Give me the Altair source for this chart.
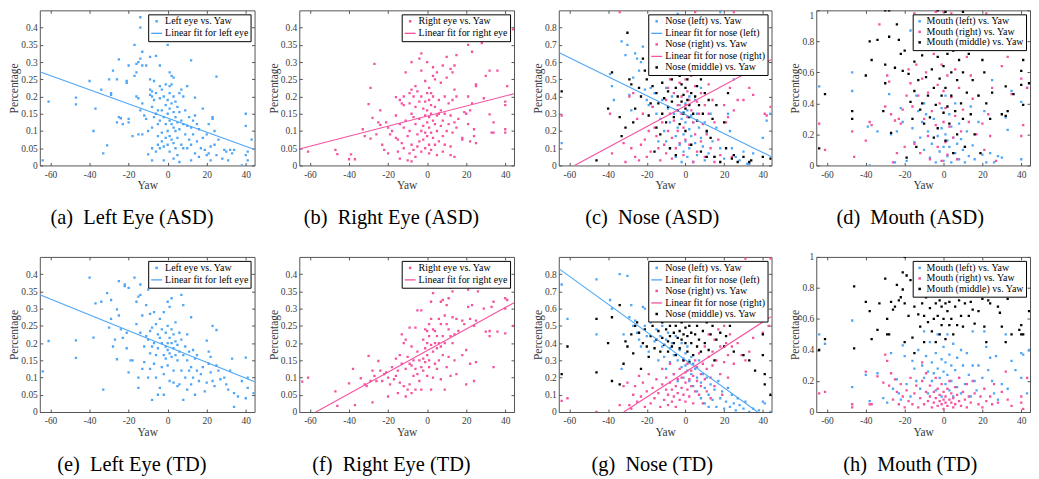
import altair as alt
import pandas as pd

BLUE = "#4ea6f7"
PINK = "#f5529f"
BLACK = "#000000"
FRAME = "#555555"
TEXT = "#3a3a3a"
FONT = "Liberation Serif"

X_DOMAIN = [-65.5, 44.5]
X_TICKS = [-60, -40, -20, 0, 20, 40]
Y_TICKS_EYE = [0, 0.05, 0.1, 0.15, 0.2, 0.25, 0.3, 0.35, 0.4]
Y_TICKS_NOSE = [0, 0.1, 0.2, 0.3, 0.4, 0.5, 0.6, 0.7, 0.8]
Y_TICKS_MOUTH = [0, 0.2, 0.4, 0.6, 0.8, 1]

# ---------------- (a) Left eye, ASD ----------------
A_LEFT = [(-64, .015), (-61, .185), (-47, .197), (-47, .177), (-40, .245), (-38, .10), (-37, .165), (-34, .22),
          (-33, .035), (-31, .058), (-30, .25), (-29, .21), (-29, .205), (-28, .275), (-26, .25), (-26, .125),
          (-25, .308), (-25, .14), (-24, .137), (-23, .12), (-21, .24), (-21, .245), (-20, .29), (-20, .135),
          (-20, .125), (-18, .085), (-17, .35), (-17, .26), (-16, .295), (-16, .27), (-16, .2), (-15, .3),
          (-15, .195), (-15, .09), (-14, .31), (-14, .43), (-14, .40), (-14, .16), (-13, .33), (-13, .29),
          (-13, .18), (-13, .09), (-12, .145), (-11, .29), (-11, .135), (-10, .032), (-10, .10), (-9, .315),
          (-9, .25), (-9, .22), (-9, .205), (-8, .2), (-8, .215), (-8, .17), (-8, .11), (-8, .05), (-8, .015),
          (-7, .245), (-7, .19), (-7, .14), (-6, .318), (-6, .21), (-6, .15), (-6, .04), (-5, .16), (-5, .12),
          (-5, .085), (-5, .06), (-4, .29), (-4, .23), (-4, .195), (-4, .13), (-4, .05), (-3, .22), (-3, .16),
          (-3, .095), (-3, .07), (-2, .2), (-2, .14), (-2, .055), (-2, .015), (-1, .235), (-1, .175), (-1, .12),
          (-1, .08), (0, .35), (0, .19), (0, .15), (0, .1), (0, .06), (1, .27), (1, .23), (1, .21), (1, .165),
          (1, .13), (1, .085), (1, .04), (2, .26), (2, .235), (2, .18), (2, .12), (2, .075), (3, .255), (3, .2),
          (3, .155), (3, .11), (3, .065), (3, .02), (4, .185), (4, .14), (4, .1), (4, .05), (5, .17), (5, .125),
          (5, .08), (5, .03), (6, .21), (6, .155), (6, .105), (6, .01), (7, .22), (7, .13), (7, .06), (8, .2),
          (8, .12), (8, .05), (9, .16), (9, .09), (10, .23), (10, .115), (10, .05), (11, .14), (11, .075),
          (12, .305), (12, .11), (12, .06), (12, .015), (13, .13), (13, .09), (14, .197), (14, .145), (14, .035),
          (15, .12), (15, .07), (16, .105), (16, .025), (17, .05), (18, .165), (18, .08), (19, .045), (20, .03),
          (20, .09), (21, .035), (21, .12), (22, .015), (22, .055), (23, .14), (23, .135), (24, .1), (24, .06),
          (25, .258), (25, .03), (26, .075), (28, .02), (29, .045), (30, .04), (31, .015), (32, .045), (33, .035),
          (34, .045), (38, .0), (40, .15), (40, .115), (40, .03), (41, .04), (41, .015), (43, .075)]
A_FIT_X = [-65.5, 44.5]
A_FIT_Y = [0.272, 0.046]

# ---------------- (b) Right eye, ASD ----------------
B_RIGHT = [(-61, .04), (-47, .045), (-46, .033), (-40, .018), (-39, .032), (-37, .018), (-33, .105), (-32, .085),
           (-30, .178), (-29, .225), (-29, .078), (-28, .138), (-27, .295), (-26, .09), (-25, .125), (-24, .16),
           (-24, .118), (-23, .06), (-22, .045), (-21, .125), (-20, .11), (-20, .035), (-19, .09), (-18, .1),
           (-16, .198), (-16, .145), (-16, .08), (-15, .075), (-15, .04), (-14, .19), (-14, .12), (-14, .02),
           (-13, .18), (-13, .065), (-12, .2), (-12, .175), (-12, .11), (-12, .05), (-11, .27), (-11, .13),
           (-10, .085), (-10, .015), (-9, .21), (-9, .18), (-9, .1), (-9, .035), (-8, .3), (-8, .22), (-8, .15),
           (-8, .06), (-8, .012), (-7, .2), (-7, .14), (-7, .045), (-6, .23), (-6, .17), (-6, .12), (-6, .025),
           (-5, .215), (-5, .09), (-5, .055), (-4, .31), (-4, .185), (-4, .135), (-4, .07), (-3, .325), (-3, .275),
           (-3, .2), (-3, .1), (-3, .04), (-2, .165), (-2, .115), (-2, .075), (-1, .245), (-1, .185), (-1, .145),
           (-1, .095), (-1, .05), (0, .3), (0, .21), (0, .16), (0, .125), (0, .085), (1, .225), (1, .19), (1, .14),
           (1, .11), (1, .06), (1, .035), (2, .21), (2, .175), (2, .15), (2, .095), (2, .045), (3, .285), (3, .26),
           (3, .2), (3, .13), (3, .08), (4, .25), (4, .17), (4, .12), (4, .06), (5, .27), (5, .145), (5, .1),
           (5, .03), (6, .19), (6, .15), (6, .07), (7, .24), (7, .16), (7, .115), (8, .29), (8, .13), (8, .085),
           (8, .04), (9, .2), (9, .15), (9, .06), (10, .315), (10, .255), (10, .1), (11, .18), (11, .12), (12, .28),
           (12, .145), (12, .055), (12, .03), (13, .27), (13, .19), (13, .095), (14, .29), (14, .22), (14, .125),
           (14, .025), (15, .32), (15, .2), (15, .11), (16, .135), (18, .08), (18, .075), (19, .155), (20, .15),
           (21, .35), (21, .2), (21, .12), (22, .07), (22, .16), (23, .33), (23, .18), (24, .105), (24, .085),
           (25, .235), (25, .23), (25, .065), (28, .355), (29, .195), (30, .26), (32, .275), (32, .148), (33, .095),
           (34, .125), (34, .095), (36, .275), (40, .185), (40, .175), (40, .105), (40, .095), (41, .23), (44, .395)]
B_FIT_X = [-65.5, 44.5]
B_FIT_Y = [0.048, 0.208]

# ---------------- (c) Nose, ASD ----------------
C_LEFT = [(-64, .13), (-39, .53), (-38, .46), (-37, .38), (-33, .72), (-31, .64), (-30, .7), (-29, .41), (-28, .32),
          (-27, .51), (-26, .65), (-25, .62), (-24, .55), (-23, .6), (-22, .69), (-21, .44), (-20, .38), (-19, .35),
          (-18, .45), (-17, .34), (-16, .42), (-15, .3), (-14, .14), (-14, .55), (-13, .27), (-12, .38), (-11, .2),
          (-10, .14), (-10, .45), (-9, .33), (-8, .25), (-8, .1), (-7, .4), (-6, .3), (-5, .17), (-5, .05),
          (-4, .88), (-4, .22), (-3, .35), (-3, .12), (-2, .27), (-2, .02), (-1, .31), (-1, .18), (-1, .08),
          (0, .36), (0, .25), (0, .14), (1, .32), (1, .05), (2, .4), (2, .21), (2, .1), (3, .29), (3, .17), (4, .02),
          (4, .25), (5, .38), (5, .13), (6, .3), (6, .06), (7, .22), (8, .16), (8, .45), (9, .11), (10, .25),
          (10, .03), (11, .19), (12, .07), (13, .3), (14, .14), (15, .05), (16, .22), (18, .1), (18, .89), (20, .04),
          (22, .3), (23, .2), (24, .1), (25, .5), (26, .05), (28, .03), (30, .08), (32, .01), (33, .01), (35, .07),
          (40, .16), (42, .26), (44, .3)]
C_RIGHT = [(-64, .29), (-39, .3), (-38, .07), (-34, .89), (-32, .13), (-31, .02), (-29, .4), (-28, .1), (-27, .42),
           (-26, .05), (-25, .27), (-24, .03), (-23, .12), (-22, .3), (-21, .15), (-20, .05), (-19, .2), (-18, .08),
           (-17, .34), (-16, .22), (-15, .17), (-14, .1), (-13, .03), (-12, .25), (-11, .12), (-10, .38), (-10, .07),
           (-9, .45), (-9, .2), (-8, .5), (-8, .3), (-7, .16), (-7, .04), (-6, .42), (-6, .26), (-5, .55), (-5, .1),
           (-4, .35), (-4, .2), (-3, .48), (-3, .13), (-2, .4), (-2, .3), (-1, .22), (-1, .06), (0, .5), (0, .35),
           (0, .15), (1, .43), (1, .28), (2, .38), (2, .12), (3, .52), (3, .32), (4, .25), (4, .02), (5, .46),
           (5, .18), (5, .89), (6, .37), (6, .08), (7, .3), (8, .42), (8, .14), (9, .24), (10, .35), (10, .05),
           (11, .18), (12, .47), (12, .3), (13, .1), (14, .38), (15, .25), (15, .02), (17, .15), (18, .06), (20, .35),
           (21, .25), (22, .28), (23, .45), (24, .05), (25, .32), (25, .89), (27, .38), (30, .38), (33, .45),
           (35, .41), (41, .3), (42, .29), (44, .34)]
C_MIDDLE = [(-64, .43), (-46, .03), (-40, .33), (-38, .54), (-34, .28), (-33, .17), (-31, .22), (-30, .77), (-29, .5),
            (-28, .47), (-27, .25), (-26, .33), (-24, .45), (-23, .4), (-22, .62), (-21, .55), (-20, .5), (-19, .29),
            (-18, .36), (-17, .46), (-16, .08), (-15, .42), (-15, .22), (-14, .36), (-13, .18), (-12, .48), (-12, .3),
            (-11, .39), (-10, .25), (-10, .53), (-9, .43), (-9, .34), (-8, .1), (-7, .5), (-7, .37), (-6, .28),
            (-5, .45), (-5, .06), (-4, .4), (-4, .32), (-3, .52), (-3, .24), (-2, .37), (-2, .47), (-1, .3), (-1, .41),
            (0, .33), (0, .45), (0, .2), (1, .38), (1, .5), (2, .35), (2, .28), (3, .42), (3, .12), (4, .3), (4, .53),
            (5, .4), (6, .26), (6, .46), (7, .35), (8, .5), (8, .08), (9, .3), (10, .42), (11, .2), (11, .05),
            (12, .38), (13, .16), (14, .27), (15, .05), (16, .35), (18, .02), (20, .25), (21, .1), (22, .42),
            (24, .04), (25, .06), (27, .02), (30, .05), (33, .02), (34, .03), (40, .05), (44, .04)]
C_FIT_LEFT_X = [-65.5, 44.5]
C_FIT_LEFT_Y = [0.655, 0.05]
C_FIT_RIGHT_X = [-57.4, 44.5]
C_FIT_RIGHT_Y = [0.0, 0.615]

# ---------------- (d) Mouth, ASD ----------------
D_LEFT = [(-64, .51), (-47, .6), (-47, .48), (-39, .25), (-38, .0), (-34, .22), (-28, .46), (-27, .2), (-25, .02),
          (-24, .22), (-22, .37), (-21, .28), (-19, .03), (-17, .87), (-16, .24), (-15, .15), (-14, .45), (-13, .35),
          (-12, .18), (-11, .28), (-10, .1), (-10, .4), (-9, .33), (-8, .22), (-7, .05), (-6, .14), (-5, .3),
          (-4, .02), (-3, .19), (-2, .09), (-1, .37), (-1, .24), (0, .12), (0, .03), (1, .2), (1, .45), (2, .16),
          (2, .06), (3, .33), (3, .12), (4, .25), (4, .02), (5, .18), (6, .08), (6, .4), (7, .14), (8, .04),
          (8, .27), (9, .17), (10, .1), (11, .02), (12, .22), (13, .06), (14, .38), (15, .13), (16, .04), (18, .28),
          (20, .07), (21, .35), (22, .02), (24, .08), (25, .55), (26, .02), (28, .06), (30, .05), (32, .31),
          (33, .23), (35, .48), (40, .41), (40, .04), (43, .5)]
D_RIGHT = [(-64, .27), (-61, .1), (-47, .22), (-46, .055), (-40, .16), (-38, .28), (-37, .26), (-33, .91), (-30, .38),
           (-29, .58), (-28, .54), (-27, .33), (-26, .02), (-25, .29), (-24, .08), (-23, .3), (-22, .27), (-21, .36),
           (-20, .12), (-19, .45), (-18, .62), (-17, .53), (-16, .38), (-15, .14), (-15, .98), (-14, .65), (-13, .45),
           (-12, .08), (-11, .56), (-10, .3), (-9, .6), (-8, .19), (-8, .47), (-7, .04), (-6, .35), (-5, .72),
           (-4, .26), (-4, .99), (-3, .52), (-3, .12), (-2, .4), (-1, .03), (-1, .65), (0, .28), (0, .48), (0, .99),
           (1, .15), (1, .37), (2, .58), (2, .07), (3, .25), (4, .44), (4, .98), (5, .18), (6, .32), (6, .62),
           (7, .04), (8, .5), (9, .22), (10, .36), (11, .12), (12, .7), (13, .28), (14, .58), (15, .43), (17, .2),
           (18, .45), (20, .27), (21, .1), (22, .98), (23, .33), (24, .19), (25, .5), (27, .03), (30, .64), (33, .7),
           (35, .46), (40, .56), (40, .19), (41, .26), (43, .5)]
D_MIDDLE = [(-64, .11), (-61, .46), (-47, .35), (-47, .3), (-40, .58), (-38, .8), (-37, .68), (-34, .81), (-31, .35),
            (-30, .65), (-30, .53), (-30, 1.0), (-28, .83), (-28, 1.0), (-27, .21), (-25, .63), (-24, .91), (-23, .81),
            (-22, .72), (-21, .61), (-20, .74), (-19, .05), (-18, .59), (-17, .41), (-16, .3), (-15, .48), (-15, .67),
            (-14, .12), (-13, .55), (-12, .36), (-11, .71), (-11, .4), (-10, .27), (-9, .57), (-8, .45), (-8, .75),
            (-7, .31), (-6, .62), (-5, .18), (-5, .5), (-4, .39), (-3, .7), (-3, .24), (-3, 1.0), (-2, .56),
            (-1, .45), (-1, .82), (0, .34), (0, .64), (1, .5), (1, .16), (1, .99), (2, .72), (2, .38), (3, .27),
            (4, .6), (4, .45), (5, .08), (5, .74), (6, .35), (7, .55), (7, .2), (8, .68), (9, .4), (10, .3), (10, .6),
            (10, .99), (11, .12), (12, .47), (13, .72), (14, .33), (15, .55), (16, .2), (18, .45), (19, .08), (20, .68),
            (21, .6), (22, .4), (24, .3), (25, .47), (28, .76), (30, .33), (32, .51), (32, .32), (33, .35), (36, .46),
            (40, .61), (40, .52), (41, .39), (41, .68), (44, .53)]

# ---------------- (e) Left eye, TD ----------------
E_LEFT = [(-64, .118), (-61, .206), (-47, .208), (-47, .157), (-40, .39), (-38, .216), (-37, .315), (-34, .32),
          (-33, .065), (-31, .345), (-30, .245), (-29, .27), (-29, .325), (-28, .19), (-27, .21), (-26, .298),
          (-26, .153), (-25, .28), (-25, .38), (-24, .24), (-23, .215), (-22, .365), (-22, .37), (-21, .185),
          (-21, .23), (-20, .115), (-20, .36), (-19, .15), (-18, .15), (-17, .39), (-16, .32), (-16, .255), (-15, .1),
          (-15, .07), (-15, .335), (-14, .37), (-14, .34), (-14, .23), (-13, .125), (-13, .28), (-12, .19),
          (-12, .145), (-11, .31), (-11, .22), (-10, .1), (-10, .355), (-10, .21), (-9, .235), (-9, .285), (-9, .17),
          (-9, .125), (-8, .035), (-8, .245), (-8, .19), (-7, .29), (-7, .14), (-7, .2), (-6, .255), (-6, .165),
          (-6, .1), (-5, .05), (-5, .225), (-5, .185), (-4, .27), (-4, .215), (-4, .07), (-3, .24), (-3, .13),
          (-3, .2), (-2, .29), (-2, .165), (-2, .11), (-2, .05), (-1, .23), (-1, .19), (-1, .155), (0, .32), (0, .25),
          (0, .2), (0, .18), (0, .135), (1, .305), (1, .215), (1, .17), (1, .09), (2, .33), (2, .24), (2, .2),
          (2, .16), (3, .225), (3, .185), (3, .12), (3, .085), (4, .26), (4, .205), (4, .165), (5, .195), (5, .15),
          (5, .075), (6, .23), (6, .175), (6, .08), (7, .34), (7, .21), (7, .12), (8, .31), (8, .165), (8, .035),
          (9, .19), (9, .1), (10, .225), (10, .15), (10, .065), (11, .175), (11, .12), (12, .275), (12, .13),
          (12, .08), (13, .18), (13, .1), (14, .155), (14, .05), (15, .165), (15, .12), (16, .09), (17, .11),
          (18, .13), (19, .06), (20, .207), (20, .085), (21, .175), (21, .14), (22, .16), (22, .115), (23, .25),
          (23, .09), (24, .075), (25, .238), (25, .135), (26, .12), (27, .095), (29, .1), (30, .08), (31, .065),
          (32, .12), (33, .155), (34, .015), (34, .055), (36, .045), (38, .09), (40, .158), (40, .04), (41, .07),
          (41, .1), (44, .055)]
E_FIT_X = [-65.5, 44.5]
E_FIT_Y = [0.34, 0.088]

# ---------------- (f) Right eye, TD ----------------
F_RIGHT = [(-64, .088), (-61, .1), (-47, .06), (-46, .018), (-40, .083), (-38, .125), (-37, .02), (-34, .098),
           (-32, .08), (-31, .075), (-30, .163), (-29, .09), (-28, .12), (-28, .028), (-27, .105), (-26, .09),
           (-25, .148), (-24, .12), (-23, .09), (-22, .11), (-21, .115), (-20, .045), (-20, .1), (-19, .08),
           (-18, .13), (-17, .095), (-16, .155), (-16, .105), (-15, .055), (-15, .12), (-14, .165), (-14, .085),
           (-13, .225), (-13, .14), (-12, .075), (-12, .2), (-11, .21), (-11, .045), (-11, .125), (-10, .16),
           (-10, .065), (-9, .14), (-9, .245), (-9, .08), (-8, .135), (-8, .055), (-8, .19), (-7, .15), (-7, .105),
           (-6, .245), (-6, .125), (-6, .065), (-5, .295), (-5, .175), (-5, .11), (-4, .15), (-4, .09), (-3, .295),
           (-3, .13), (-3, .065), (-2, .21), (-2, .155), (-2, .12), (-1, .24), (-1, .185), (-1, .145), (0, .235),
           (0, .2), (0, .165), (0, .105), (1, .255), (1, .22), (1, .15), (1, .13), (2, .32), (2, .27), (2, .195),
           (2, .065), (3, .345), (3, .24), (3, .175), (3, .1), (4, .235), (4, .2), (4, .14), (5, .22), (5, .185),
           (5, .125), (6, .27), (6, .2), (6, .15), (7, .32), (7, .255), (7, .19), (7, .095), (8, .325), (8, .22),
           (8, .165), (9, .28), (9, .2), (9, .065), (10, .31), (10, .255), (10, .13), (11, .33), (11, .24), (11, .16),
           (12, .36), (12, .22), (12, .105), (13, .35), (13, .275), (13, .2), (14, .225), (14, .15), (15, .27),
           (15, .11), (16, .235), (18, .265), (18, .165), (19, .255), (20, .18), (20, .08), (21, .305), (21, .355),
           (22, .14), (22, .27), (23, .31), (24, .25), (24, .09), (25, .265), (25, .145), (26, .35), (27, .375),
           (29, .3), (30, .365), (30, .233), (32, .235), (32, .22), (33, .305), (34, .32), (34, .13), (36, .233),
           (40, .33), (40, .3), (40, .228), (41, .325), (44, .25)]
F_FIT_X = [-57.0, 44.5]
F_FIT_Y = [0.0, 0.317]

# ---------------- (g) Nose, TD ----------------
G_LEFT = [(-64, .74), (-61, .54), (-46, .77), (-46, .45), (-39, .65), (-38, .6), (-34, .8), (-33, .25), (-32, .45),
          (-30, .79), (-29, .55), (-28, .62), (-27, .5), (-26, .53), (-25, .46), (-24, .42), (-23, .38), (-22, .61),
          (-21, .6), (-21, .5), (-20, .44), (-19, .35), (-18, .52), (-17, .55), (-16, .41), (-15, .48), (-14, .3),
          (-13, .44), (-12, .38), (-12, .5), (-11, .32), (-10, .42), (-10, .25), (-9, .46), (-8, .37), (-8, .29),
          (-7, .4), (-6, .33), (-6, .22), (-5, .44), (-4, .3), (-4, .18), (-3, .36), (-2, .26), (-2, .4), (-1, .31),
          (-1, .2), (0, .34), (0, .27), (1, .24), (1, .38), (2, .3), (2, .18), (3, .22), (3, .32), (4, .28),
          (4, .15), (5, .25), (6, .2), (6, .12), (7, .3), (8, .17), (8, .08), (9, .22), (10, .14), (10, .05),
          (11, .2), (12, .1), (12, .03), (13, .16), (14, .07), (15, .13), (16, .03), (17, .18), (18, .08), (19, .12),
          (20, .02), (21, .06), (22, .14), (23, .03), (24, .1), (25, .05), (26, .01), (27, .08), (28, .04), (30, .02),
          (31, .06), (33, .0), (35, .02), (38, .01), (40, .06), (41, .05), (44, .0)]
G_RIGHT = [(-64, .065), (-61, .08), (-46, .0), (-34, .04), (-32, .15), (-30, .17), (-29, .04), (-28, .02), (-27, .1),
           (-26, .15), (-25, .06), (-24, .21), (-23, .09), (-22, .17), (-21, .03), (-20, .12), (-19, .22), (-18, .05),
           (-17, .14), (-16, .08), (-15, .19), (-14, .11), (-13, .03), (-12, .16), (-12, .25), (-11, .07), (-10, .13),
           (-10, .2), (-9, .04), (-9, .1), (-8, .17), (-8, .28), (-7, .06), (-7, .13), (-6, .22), (-6, .09),
           (-5, .15), (-5, .03), (-4, .19), (-4, .11), (-3, .25), (-3, .07), (-2, .14), (-2, .2), (-1, .1), (-1, .3),
           (0, .17), (0, .06), (0, .23), (1, .13), (1, .28), (2, .19), (2, .09), (3, .24), (3, .15), (4, .05),
           (4, .21), (5, .12), (5, .3), (6, .18), (6, .26), (7, .1), (7, .34), (8, .22), (8, .15), (9, .28), (9, .05),
           (10, .38), (10, .19), (11, .25), (11, .12), (12, .45), (12, .32), (13, .2), (13, .08), (14, .35),
           (14, .27), (15, .42), (15, .15), (16, .3), (17, .48), (18, .22), (18, .38), (19, .1), (20, .5), (20, .29),
           (21, .4), (22, .33), (22, .2), (23, .45), (24, .38), (25, .28), (27, .4), (29, .33), (31, .3), (31, .89),
           (33, .35), (35, .43), (40, .46), (43, .5), (44, .89)]
G_MIDDLE = [(-64, .22), (-61, .38), (-46, .54), (-46, .23), (-40, .4), (-38, .55), (-38, .18), (-34, .62), (-34, .16),
            (-32, .28), (-31, .41), (-30, .38), (-28, .45), (-27, .34), (-26, .5), (-25, .52), (-24, .46), (-23, .25),
            (-22, .4), (-21, .48), (-20, .38), (-19, .32), (-18, .44), (-17, .5), (-16, .37), (-15, .42), (-14, .47),
            (-13, .35), (-12, .52), (-12, .43), (-11, .39), (-10, .48), (-10, .55), (-9, .41), (-9, .35), (-8, .5),
            (-8, .44), (-7, .38), (-7, .53), (-6, .46), (-6, .4), (-5, .5), (-5, .33), (-4, .43), (-4, .56),
            (-3, .47), (-3, .37), (-2, .52), (-2, .42), (-1, .45), (-1, .3), (0, .49), (0, .4), (0, .56), (1, .44),
            (1, .35), (2, .5), (2, .29), (3, .46), (3, .4), (4, .54), (4, .33), (5, .45), (6, .5), (6, .38), (7, .42),
            (8, .55), (8, .35), (9, .47), (10, .4), (11, .52), (12, .36), (13, .45), (14, .5), (15, .3), (16, .42),
            (18, .46), (20, .38), (21, .44), (23, .5), (25, .35), (30, .33), (33, .3), (36, .24), (40, .45),
            (40, .33), (41, .22), (41, .16), (44, .1)]
G_FIT_LEFT_X = [-65.5, 37.3]
G_FIT_LEFT_Y = [0.832, 0.0]
G_FIT_RIGHT_X = [-31.9, 44.5]
G_FIT_RIGHT_Y = [0.0, 0.555]

# ---------------- (h) Mouth, TD ----------------
H_LEFT = [(-64, .5), (-61, .44), (-47, .59), (-47, .16), (-40, .24), (-38, .07), (-34, .25), (-31, .09), (-29, .06),
          (-27, .38), (-26, .15), (-24, .21), (-23, .12), (-22, .08), (-21, .43), (-20, .36), (-19, .18), (-17, .1),
          (-16, .33), (-15, .28), (-14, .2), (-13, .4), (-12, .15), (-11, .3), (-10, .52), (-10, .22), (-9, .36),
          (-8, .26), (-8, .12), (-7, .45), (-6, .32), (-6, .2), (-5, .25), (-4, .38), (-4, .14), (-3, .28), (-3, .5),
          (-2, .22), (-1, .34), (-1, .1), (0, .42), (0, .26), (1, .18), (1, .32), (2, .5), (2, .24), (3, .37),
          (3, .14), (4, .3), (4, .2), (5, .44), (5, .1), (6, .27), (7, .35), (7, .16), (8, .22), (9, .4), (9, .12),
          (10, .3), (11, .18), (12, .38), (13, .24), (14, .1), (15, .52), (15, .3), (16, .2), (17, .14), (18, .3),
          (20, .22), (21, .52), (22, .42), (23, .27), (24, .35), (25, .2), (26, .12), (27, .36), (28, .08), (30, .18),
          (32, .5), (33, .15), (35, .33), (37, .27), (40, .38), (40, .22), (41, .37), (43, .12), (44, .4)]
H_RIGHT = [(-64, .12), (-61, .13), (-47, .05), (-47, .03), (-40, .26), (-38, .05), (-37, .05), (-34, .23), (-31, .19),
           (-30, .37), (-29, .33), (-28, .17), (-27, .25), (-26, .08), (-25, .21), (-24, .13), (-23, .05), (-22, .18),
           (-21, .1), (-20, .03), (-19, .14), (-18, .07), (-17, .22), (-16, .05), (-15, .12), (-14, .17), (-13, .03),
           (-12, .09), (-11, .32), (-11, .2), (-10, .05), (-9, .13), (-9, .25), (-8, .07), (-7, .1), (-7, .17),
           (-6, .03), (-5, .06), (-5, .13), (-4, .22), (-4, .09), (-3, .04), (-3, .15), (-2, .07), (-2, .11),
           (-1, .05), (-1, .18), (0, .08), (0, .13), (0, .02), (1, .06), (1, .1), (2, .15), (2, .04), (3, .08),
           (3, .2), (4, .06), (4, .12), (5, .03), (5, .09), (6, .16), (6, .05), (7, .11), (8, .07), (8, .22),
           (9, .04), (10, .13), (11, .08), (12, .18), (12, .03), (13, .1), (14, .06), (15, .2), (16, .12), (18, .05),
           (19, .1), (20, .03), (21, .15), (22, .07), (24, .1), (25, .05), (26, .18), (28, .06), (30, .13), (32, .26),
           (33, .08), (35, .04), (40, .1), (40, .06), (41, .02), (43, .22)]
H_MIDDLE = [(-64, .4), (-61, .47), (-46, .81), (-46, .41), (-40, .71), (-38, .65), (-37, .47), (-34, .53), (-33, .7),
            (-30, .86), (-29, .6), (-29, .5), (-28, .5), (-27, .71), (-26, .66), (-25, .68), (-24, .82), (-23, .72),
            (-22, .74), (-21, .9), (-21, .79), (-20, .7), (-20, .45), (-20, 1.0), (-19, .88), (-18, .62), (-17, .85),
            (-16, .48), (-15, .38), (-15, .68), (-14, .77), (-13, .63), (-12, .55), (-12, .8), (-11, .7), (-10, .45),
            (-10, .62), (-9, .74), (-8, .58), (-8, .84), (-7, .67), (-6, .52), (-6, .76), (-5, .6), (-4, .7),
            (-4, .45), (-3, .8), (-3, .62), (-2, .5), (-2, .72), (-1, .68), (-1, .56), (0, .75), (0, .6), (0, .85),
            (1, .7), (1, .47), (2, .65), (2, .78), (3, .56), (3, .71), (4, .6), (5, .76), (5, .5), (6, .68), (7, .56),
            (8, .72), (9, .62), (10, .8), (10, .55), (11, .7), (12, .75), (13, .62), (14, .71), (15, .66), (16, .57),
            (18, .65), (20, .73), (21, .55), (22, .45), (23, .72), (24, .7), (25, .82), (28, .68), (29, .64), (30, .55),
            (32, .45), (33, .73), (35, .5), (39, .53), (40, .56), (40, .5), (41, .5), (44, .65)]

# legend labels
L_EYE_PTS = "Left eye vs. Yaw"
L_EYE_FIT = "Linear fit for left eye"
R_EYE_PTS = "Right eye vs. Yaw"
R_EYE_FIT = "Linear fit for right eye"
N_L_PTS = "Nose (left) vs. Yaw"
N_L_FIT = "Linear fit for nose (left)"
N_R_PTS = "Nose (right) vs. Yaw"
N_R_FIT = "Linear fit for nose (right)"
N_M_PTS = "Nose (middle) vs. Yaw"
M_L_PTS = "Mouth (left) vs. Yaw"
M_R_PTS = "Mouth (right) vs. Yaw"
M_M_PTS = "Mouth (middle) vs. Yaw"

LABEL_EXPR = "'' + datum.value"


def make_panel(points, lines, order, colors, y_domain, y_ticks, caption, width, height, flush_top=False):
    pts = pd.DataFrame([{"x": x, "y": y, "s": name} for name, data in points for x, y in data])
    kinds = ["line" if any(name == ln for ln, _, _ in lines) else "pt" for name in order]
    shapes = ["stroke" if k == "line" else "square" for k in kinds]
    sizes = [121 if k == "line" else 1.5 for k in kinds]

    legend = alt.Legend(
        orient="top-right", offset=4, title=None, strokeColor="black", fillColor="white",
        padding=2, labelFont=FONT, labelFontSize=10, labelColor="black", labelOffset=2,
        rowPadding=0.6, symbolStrokeWidth=1.3, labelLimit=400, cornerRadius=0,
    )
    color_scale = alt.Scale(domain=order, range=colors)
    shape_scale = alt.Scale(domain=order, range=shapes)
    size_scale = alt.Scale(type="ordinal", domain=order, range=sizes)

    xs = alt.Scale(domain=X_DOMAIN, nice=False, zero=False)
    ys = alt.Scale(domain=y_domain, nice=False, zero=False)

    common = dict(grid=False, domain=False, ticks=True, tickSize=3, tickColor=FRAME, tickWidth=1, offset=-3)
    x_axis = alt.Axis(values=X_TICKS, title="Yaw", labelExpr=LABEL_EXPR, labelFont=FONT, labelFontSize=9.5,
                      labelColor=TEXT, labelPadding=4, labelFlush=False, titleFont=FONT, titleFontSize=11.5,
                      titleFontWeight="normal", titleColor=TEXT, titlePadding=1, **common)
    y_kw = dict(values=y_ticks, title="Percentage", labelExpr=LABEL_EXPR, labelFont=FONT, labelFontSize=9.5,
                labelColor=TEXT, labelPadding=2.5, labelFlush=False, titleFont=FONT, titleFontSize=11.5,
                titleFontWeight="normal", titleColor=TEXT, titlePadding=1, **common)
    if flush_top:
        y_kw["labelBaseline"] = {"condition": {"test": "datum.value >= 1", "value": "top"}, "value": "middle"}
    y_axis = alt.Axis(**y_kw)
    x_top = alt.Axis(orient="top", values=X_TICKS, labels=False, title=None, **common)
    y_right = alt.Axis(orient="right", values=y_ticks, labels=False, title=None, **common)

    layers = []
    layers.append(
        alt.Chart(pts).mark_point(filled=False, opacity=1, strokeWidth=1.1, clip=True).encode(
            x=alt.X("x:Q", scale=xs, axis=x_axis),
            y=alt.Y("y:Q", scale=ys, axis=y_axis),
            color=alt.Color("s:N", scale=color_scale, legend=legend),
            shape=alt.Shape("s:N", scale=shape_scale, legend=legend),
            size=alt.Size("s:N", scale=size_scale, legend=legend),
        )
    )
    if lines:
        ldf = pd.DataFrame([{"x": x, "y": y, "s": name} for name, lx, ly in lines for x, y in zip(lx, ly)])
        layers.append(
            alt.Chart(ldf).mark_line(strokeWidth=1.1, clip=True).encode(
                x=alt.X("x:Q", scale=xs, axis=None),
                y=alt.Y("y:Q", scale=ys, axis=None),
                color=alt.Color("s:N", scale=color_scale, legend=legend),
            )
        )
    # invisible layer that only carries the mirrored top / right tick axes
    layers.append(
        alt.Chart(pts).mark_point(opacity=0, size=1, clip=True).encode(
            x=alt.X("x:Q", scale=xs, axis=x_top),
            y=alt.Y("y:Q", scale=ys, axis=y_right),
        )
    )
    title = alt.TitleParams(text=caption, orient="bottom", anchor="middle", frame="bounds", offset=17,
                            font=FONT, fontSize=20.5, fontWeight="normal", color="black")
    return alt.layer(*layers).resolve_axis(x="independent", y="independent").properties(
        width=width, height=height, title=title
    )


W = [216, 216, 214, 215]
H = 156
NB = "\u00a0"

pa = make_panel([(L_EYE_PTS, A_LEFT)], [(L_EYE_FIT, A_FIT_X, A_FIT_Y)], [L_EYE_PTS, L_EYE_FIT],
                [BLUE, BLUE], [0, 0.45], Y_TICKS_EYE, f"(a){NB}{NB}Left Eye (ASD)", W[0], H)
pb = make_panel([(R_EYE_PTS, B_RIGHT)], [(R_EYE_FIT, B_FIT_X, B_FIT_Y)], [R_EYE_PTS, R_EYE_FIT],
                [PINK, PINK], [0, 0.45], Y_TICKS_EYE, f"(b){NB}{NB}Right Eye (ASD)", W[1], H)
pc = make_panel([(N_L_PTS, C_LEFT), (N_R_PTS, C_RIGHT), (N_M_PTS, C_MIDDLE)],
                [(N_L_FIT, C_FIT_LEFT_X, C_FIT_LEFT_Y), (N_R_FIT, C_FIT_RIGHT_X, C_FIT_RIGHT_Y)],
                [N_L_PTS, N_L_FIT, N_R_PTS, N_R_FIT, N_M_PTS], [BLUE, BLUE, PINK, PINK, BLACK],
                [0, 0.9], Y_TICKS_NOSE, f"(c){NB}{NB}Nose (ASD)", W[2], H)
pd_ = make_panel([(M_L_PTS, D_LEFT), (M_R_PTS, D_RIGHT), (M_M_PTS, D_MIDDLE)], [],
                 [M_L_PTS, M_R_PTS, M_M_PTS], [BLUE, PINK, BLACK],
                 [0, 1], Y_TICKS_MOUTH, f"(d){NB}{NB}Mouth (ASD)", W[3], H, flush_top=True)

pe = make_panel([(L_EYE_PTS, E_LEFT)], [(L_EYE_FIT, E_FIT_X, E_FIT_Y)], [L_EYE_PTS, L_EYE_FIT],
                [BLUE, BLUE], [0, 0.45], Y_TICKS_EYE, f"(e){NB}{NB}Left Eye (TD)", W[0], H)
pf = make_panel([(R_EYE_PTS, F_RIGHT)], [(R_EYE_FIT, F_FIT_X, F_FIT_Y)], [R_EYE_PTS, R_EYE_FIT],
                [PINK, PINK], [0, 0.45], Y_TICKS_EYE, f"(f){NB}{NB}Right Eye (TD)", W[1], H)
pg = make_panel([(N_L_PTS, G_LEFT), (N_R_PTS, G_RIGHT), (N_M_PTS, G_MIDDLE)],
                [(N_L_FIT, G_FIT_LEFT_X, G_FIT_LEFT_Y), (N_R_FIT, G_FIT_RIGHT_X, G_FIT_RIGHT_Y)],
                [N_L_PTS, N_L_FIT, N_R_PTS, N_R_FIT, N_M_PTS], [BLUE, BLUE, PINK, PINK, BLACK],
                [0, 0.9], Y_TICKS_NOSE, f"(g){NB}{NB}Nose (TD)", W[2], H)
ph = make_panel([(M_L_PTS, H_LEFT), (M_R_PTS, H_RIGHT), (M_M_PTS, H_MIDDLE)], [],
                [M_L_PTS, M_R_PTS, M_M_PTS], [BLUE, PINK, BLACK],
                [0, 1], Y_TICKS_MOUTH, f"(h){NB}{NB}Mouth (TD)", W[3], H)

chart = alt.concat(
    pa, pb, pc, pd_, pe, pf, pg, ph,
    columns=4, spacing={"column": 45, "row": 92}, bounds="flush",
).resolve_scale(
    color="independent", shape="independent", size="independent"
).properties(
    padding={"left": 0, "top": 0, "right": 0, "bottom": 0}
).configure_view(stroke=FRAME, strokeWidth=1)

chart.save("out.html", embed_options={"renderer": "svg", "actions": False, "padding": 0})
